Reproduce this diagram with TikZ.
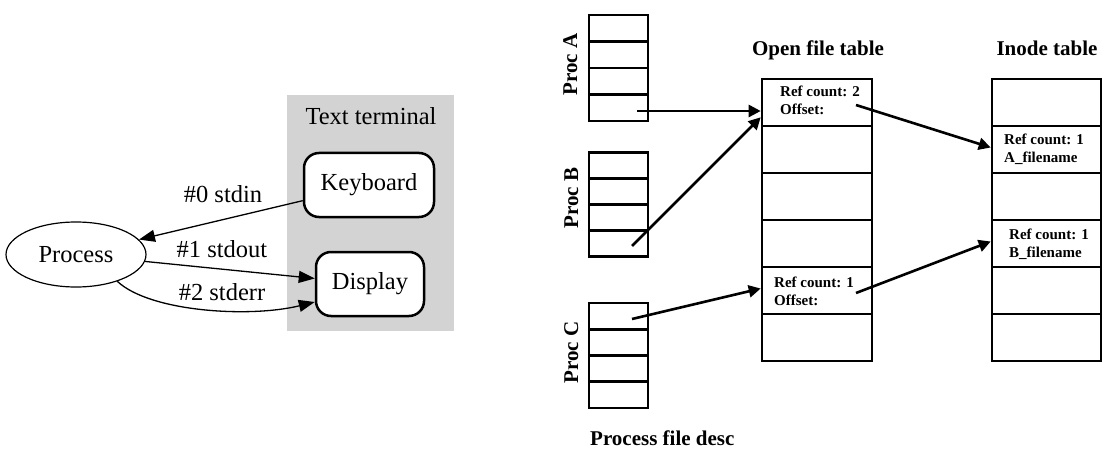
\documentclass[tikz,border=0pt]{standalone}
\usepackage{fontspec}
\setmainfont{Liberation Serif}
\usetikzlibrary{arrows.meta,shapes.geometric,calc}
\definecolor{gvgray}{HTML}{D3D3D3}
\begin{document}
\begin{tikzpicture}[x=1pt,y=-1pt,
 gv/.style={font=\fontsize{24.5}{28}\selectfont},
 gvtext/.style={gv, anchor=base, inner sep=0pt},
 term/.style={gv, draw, line width=2.5pt, rounded corners=15pt, fill=white, minimum height=64pt, inner sep=0pt},
 gvedge/.style={line width=1.3pt, -{Triangle[length=16pt,width=12pt]}},
 cell/.style={draw, line width=2.6pt, inner sep=0pt},
 pcell/.style={cell, minimum width=59pt},
 tcell/.style={cell, minimum width=110pt, minimum height=47pt},
 bl/.style={font=\bfseries\fontsize{21}{25}\selectfont, inner sep=0pt},
 sm/.style={font=\bfseries\fontsize{15}{18}\selectfont, anchor=base west, inner sep=0pt},
 ptr/.style={line width=2.6pt, -{Triangle[length=12pt,width=12pt]}}
]
\useasboundingbox (0,0) rectangle (1110,457);

% ---------------- left: graphviz-like diagram
\node[fill=gvgray, minimum width=167pt, minimum height=236pt, inner sep=0pt] (termbox) at (370.5,213) {};
\node[gvtext] (termlabel) at (371,125) {Text terminal};
\node[term, minimum width=130pt] (kbd) at (369,185) {Keyboard};
\node[term, minimum width=108pt] (disp) at (370,284) {Display};
\node[gv, draw, ellipse, line width=1.2pt, minimum width=140pt, minimum height=65pt, inner sep=0pt] (proc) at (76,254.5) {Process};

\draw[gvedge] (kbd) -- (proc);
\draw[gvedge] (proc) -- (disp);
\draw[gvedge] (proc.-33) .. controls (150,312) and (250,318) .. ($(disp.west)+(0,18)$);

\node[gvtext] (l0) at (223,202) {\#0 stdin};
\node[gvtext] (l1) at (222,257) {\#1 stdout};
\node[gvtext] (l2) at (222,300) {\#2 stderr};

% ---------------- right: file tables
\foreach \i in {1,...,4} {
  \node[pcell, minimum height=26.5pt] (a\i) at (618.5,{15+26.5*(\i-0.5)}) {};
  \node[pcell, minimum height=26pt] (b\i) at (618.5,{152.5+26*(\i-0.5)}) {};
  \node[pcell, minimum height=26.25pt] (c\i) at (618.5,{303+26.25*(\i-0.5)}) {};
}
\foreach \i in {1,...,6} {
  \node[tcell] (o\i) at (817,{79+47*(\i-0.5)}) {};
  \node[tcell, minimum width=109pt] (i\i) at (1046.5,{79+47*(\i-0.5)}) {};
}

\node[bl, rotate=90, anchor=base] (lA) at (577,64.5) {Proc A};
\node[bl, rotate=90, anchor=base] (lB) at (578,198) {Proc B};
\node[bl, rotate=90, anchor=base] (lC) at (578,352.5) {Proc C};
\node[bl, anchor=base] (tOpen) at (818,56) {Open file table};
\node[bl, anchor=base] (tInode) at (1047,56) {Inode table};
\node[bl, anchor=base west] (tProc) at (590,445) {Process file desc};

\node[sm] (o1a) at (780,97) {Ref count: 2};
\node[sm] (o1b) at (780,115) {Offset:};
\node[sm] (o5a) at (774,287) {Ref count: 1};
\node[sm] (o5b) at (774,305) {Offset:};
\node[sm] (i2a) at (1004,145) {Ref count: 1};
\node[sm] (i2b) at (1004,163) {A\_filename};
\node[sm] (i4a) at (1009,239) {Ref count: 1};
\node[sm] (i4b) at (1009,257) {B\_filename};

\coordinate (sA) at (637,111);
\coordinate (sB) at (632,246);
\coordinate (sC) at (632,319);
\coordinate (s1) at (856,105);
\coordinate (s5) at (856,293);

\draw[ptr] (sA) -- (sA -| o1.west);
\draw[ptr] (sB) -- ($(o1.south west)+(0,-10)$);
\draw[ptr] (sC) -- ($(o5.west)+(0,-2)$);
\draw[ptr] (s1) -- ($(i2.west)+(0,-2)$);
\draw[ptr] (s5) -- ($(i4.west)+(0,-2)$);
\end{tikzpicture}
\end{document}
